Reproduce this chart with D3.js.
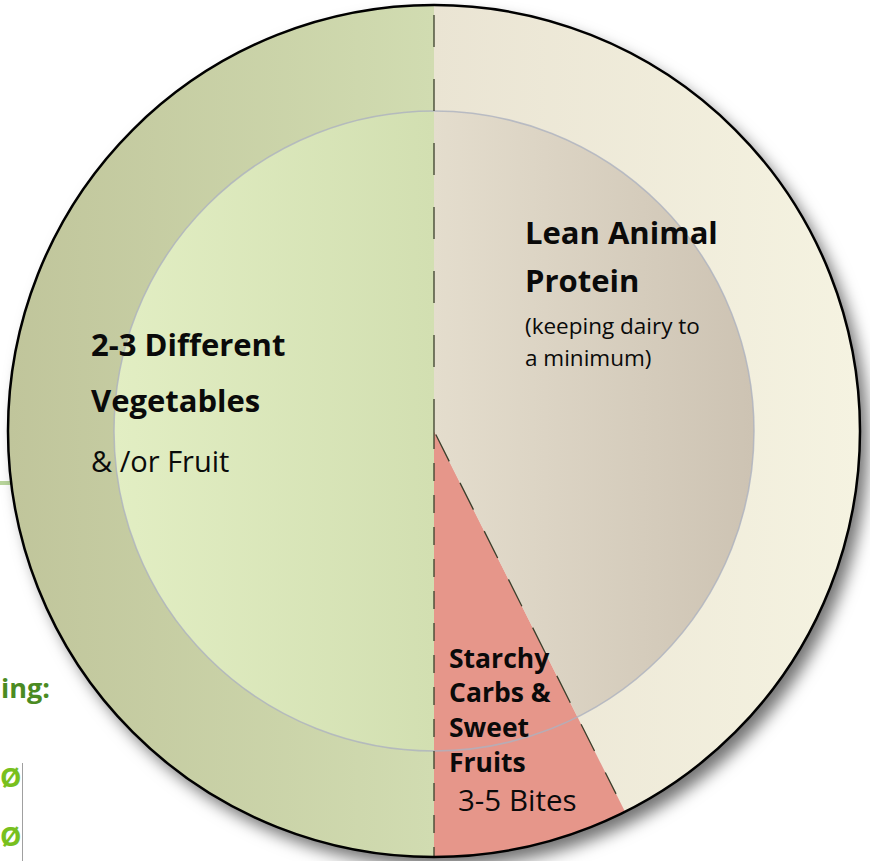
<!DOCTYPE html>
<html>
<head>
<meta charset="utf-8">
<script src="https://cdn.jsdelivr.net/npm/d3@7"></script>
<style>
  body { margin: 0; background: #fff; overflow: hidden; }
  svg { display: block; font-family: "Open Sans", sans-serif; }
</style>
</head>
<body>
<script>
// plate portions, clockwise from 12 o'clock
let portions = ['protein', 'starch', 'veg'],
  shares = [42.6, 7.4, 50]

let width = 870,
  height = 861,
  cx = 434,
  cy = 431,
  outerR = 426,
  innerR = 320

let svg = d3.select('body').append('svg')
  .attr('width', width)
  .attr('height', height)

let defs = svg.append('defs')

let shadow = defs.append('filter').attr('id', 'shadow')
  .attr('x', '-10%').attr('y', '-10%').attr('width', '130%').attr('height', '130%')
shadow.append('feDropShadow')
  .attr('dx', 8).attr('dy', 10).attr('stdDeviation', 8)
  .attr('flood-color', '#000').attr('flood-opacity', 0.55)

// gradients are in the plate's local coords (centre = 0,0)
function grad(id, x1, x2, c1, c2) {
  let g = defs.append('linearGradient').attr('id', id)
    .attr('gradientUnits', 'userSpaceOnUse')
    .attr('x1', x1).attr('x2', x2).attr('y1', 0).attr('y2', 0)
  g.append('stop').attr('offset', 0).attr('stop-color', c1)
  g.append('stop').attr('offset', 1).attr('stop-color', c2)
  return 'url(#' + id + ')'
}

let outerFill = {
  protein: grad('pOut', 0, outerR, '#eae4d3', '#f5f3e1'),
  starch: '#e6968a',
  veg: grad('vOut', -outerR, 0, '#c0c59b', '#d1dcb1')
}
let innerFill = {
  protein: grad('pIn', 0, innerR, '#e4ddcd', '#cdc3b3'),
  veg: grad('vIn', -innerR, 0, '#e2eec3', '#d2dfb1')
}

// bits of the surrounding page, cut off at the left edge
svg.append('line')
  .attr('x1', 0).attr('x2', 60).attr('y1', 483).attr('y2', 483)
  .attr('stroke', '#b8d59b').attr('stroke-width', 4)
svg.append('text')
  .attr('x', 1).attr('y', 698)
  .attr('font-size', 27).attr('font-weight', 'bold').attr('fill', '#4b8b22')
  .text('ing:')
svg.selectAll('text.bullet')
  .data([787, 846])
  .enter()
  .append('text')
  .attr('class', 'bullet')
  .attr('x', 0).attr('y', d => d)
  .attr('font-size', 27).attr('font-weight', 'bold').attr('fill', '#78c01e')
  .text('Ø')
svg.append('line')
  .attr('x1', 22.5).attr('x2', 22.5).attr('y1', 763).attr('y2', 861)
  .attr('stroke', '#a0a0a0').attr('stroke-width', 1)

let pie = d3.pie().sort(null)
let arcs = pie(shares)

let plate = svg.append('g')
  .attr('transform', 'translate(' + cx + ', ' + cy + ')')

plate.append('circle')
  .attr('r', outerR)
  .attr('fill', '#ddd')
  .attr('filter', 'url(#shadow)')

let outerArc = d3.arc().innerRadius(0).outerRadius(outerR)
let innerArc = d3.arc().innerRadius(0).outerRadius(innerR)

plate.selectAll('path.outer')
  .data(arcs)
  .enter()
  .append('path')
  .attr('class', 'outer')
  .attr('d', outerArc)
  .attr('fill', (d, i) => outerFill[portions[i]])

plate.selectAll('path.inner')
  .data(arcs.filter((d, i) => portions[i] !== 'starch'))
  .enter()
  .append('path')
  .attr('class', 'inner')
  .attr('d', innerArc)
  .attr('fill', d => innerFill[portions[d.index]])

plate.append('circle')
  .attr('r', innerR)
  .attr('fill', 'none')
  .attr('stroke', '#adb2bf')
  .attr('stroke-opacity', 0.8)
  .attr('stroke-width', 1.5)

// dashed dividers along slice edges
let dividers = [
  { a: 0, r0: 0, r1: outerR, dash: '32,32' },
  { a: arcs[1].startAngle, r0: 4, r1: outerR - 20, dash: '30,24' },
  { a: Math.PI, r0: 0, r1: outerR, dash: '18,14' }
]
plate.selectAll('line.div')
  .data(dividers)
  .enter()
  .append('line')
  .attr('class', 'div')
  .attr('x1', d => d3.pointRadial(d.a, d.r0)[0])
  .attr('y1', d => d3.pointRadial(d.a, d.r0)[1])
  .attr('x2', d => d3.pointRadial(d.a, d.r1)[0])
  .attr('y2', d => d3.pointRadial(d.a, d.r1)[1])
  .attr('stroke', '#3b3f2c')
  .attr('stroke-width', 1.3)
  .attr('stroke-dasharray', d => d.dash)

plate.append('circle')
  .attr('r', outerR)
  .attr('fill', 'none')
  .attr('stroke', '#000')
  .attr('stroke-width', 2.5)

// labels
let labels = [
  { t: '2-3 Different', x: 91, y: 356, s: 31, w: 'bold' },
  { t: 'Vegetables', x: 91, y: 412, s: 31, w: 'bold' },
  { t: '& /or Fruit', x: 91, y: 472, s: 29, w: 'normal' },
  { t: 'Lean Animal', x: 525, y: 244, s: 31, w: 'bold' },
  { t: 'Protein', x: 525, y: 292, s: 31, w: 'bold' },
  { t: '(keeping dairy to', x: 525, y: 334, s: 22.5, w: 'normal' },
  { t: 'a minimum)', x: 525, y: 366, s: 22.5, w: 'normal' },
  { t: 'Starchy', x: 449, y: 668, s: 26.5, w: 'bold' },
  { t: 'Carbs &', x: 449, y: 702, s: 26.5, w: 'bold' },
  { t: 'Sweet', x: 449, y: 737, s: 26.5, w: 'bold' },
  { t: 'Fruits', x: 449, y: 772, s: 26.5, w: 'bold' },
  { t: '3-5 Bites', x: 458, y: 811, s: 29.5, w: 'normal' }
]
svg.selectAll('text.label')
  .data(labels)
  .enter()
  .append('text')
  .attr('class', 'label')
  .attr('x', d => d.x)
  .attr('y', d => d.y)
  .attr('font-size', d => d.s)
  .attr('font-weight', d => d.w)
  .attr('fill', '#0a0a0a')
  .text(d => d.t)
</script>
</body>
</html>
